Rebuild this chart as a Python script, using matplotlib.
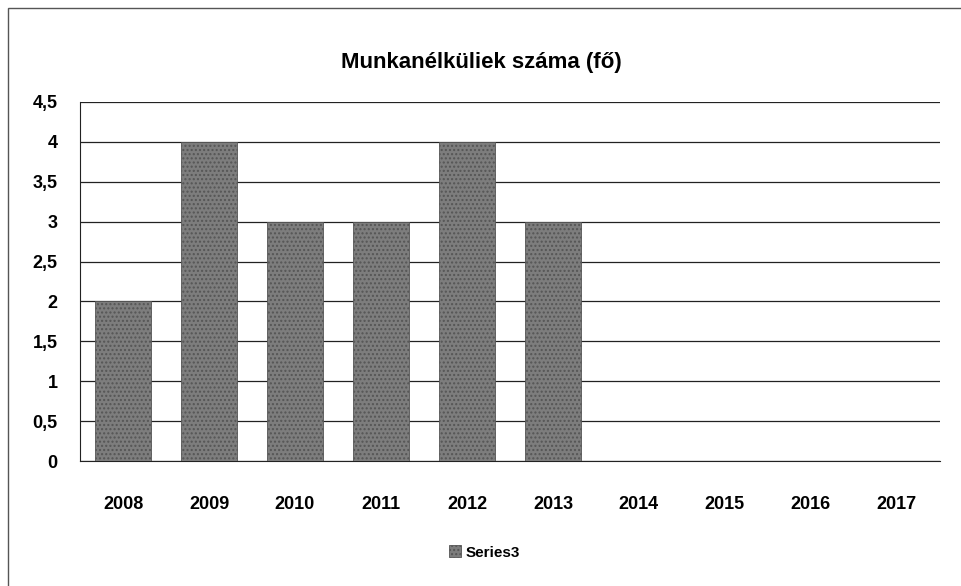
import matplotlib
matplotlib.use("Agg")
import matplotlib.pyplot as plt
from matplotlib.patches import Rectangle

years = ["2008", "2009", "2010", "2011", "2012", "2013", "2014", "2015", "2016", "2017"]
series3 = [2, 4, 3, 3, 4, 3, 0, 0, 0, 0]
yticks = [0, 0.5, 1, 1.5, 2, 2.5, 3, 3.5, 4, 4.5]
ytick_labels = ["0", "0,5", "1", "1,5", "2", "2,5", "3", "3,5", "4", "4,5"]

plt.rcParams['font.family'] = ['Liberation Sans', 'DejaVu Sans']
plt.rcParams['hatch.color'] = '#9a9a9a'

fig = plt.figure(figsize=(9.62, 5.86), dpi=100)
fig.patches.append(Rectangle((0.008, -0.01), 1.0, 0.997, transform=fig.transFigure,
                             fill=False, edgecolor='#555555', linewidth=1.0))

ax = fig.add_axes([0.0832, 0.2133, 0.8938, 0.6127])
x = list(range(len(years)))
ax.bar(x, series3, width=0.65, color='#7d7d7d', edgecolor='#555555',
       linewidth=0.6, hatch='....', zorder=3, label='Series3')

ax.set_xlim(-0.5, len(years) - 0.5)
ax.set_ylim(0, 4.5)
ax.set_yticks(yticks)
ax.set_yticklabels(ytick_labels, fontsize=13, fontweight='bold')
ax.set_xticks(x)
ax.set_xticklabels(years, fontsize=13, fontweight='bold')
ax.tick_params(axis='both', length=0)
ax.tick_params(axis='y', pad=16)
ax.tick_params(axis='x', pad=25)
ax.yaxis.grid(True, color='#222222', linewidth=0.9, zorder=0)
ax.set_axisbelow(True)
for s in ['top', 'right']:
    ax.spines[s].set_visible(False)
ax.spines['left'].set_color('#222222')
ax.spines['bottom'].set_color('#222222')

fig.text(0.5, 0.893, "Munkanélküliek száma (fő)", ha='center', va='center',
         fontsize=16, fontweight='heavy')

ax.legend(loc='center', bbox_to_anchor=(0.47, -0.255), frameon=False,
          prop={'size': 11, 'weight': 'bold'}, handlelength=0.8, handleheight=0.8,
          handletextpad=0.3)

fig.savefig("out.png", dpi=100)
